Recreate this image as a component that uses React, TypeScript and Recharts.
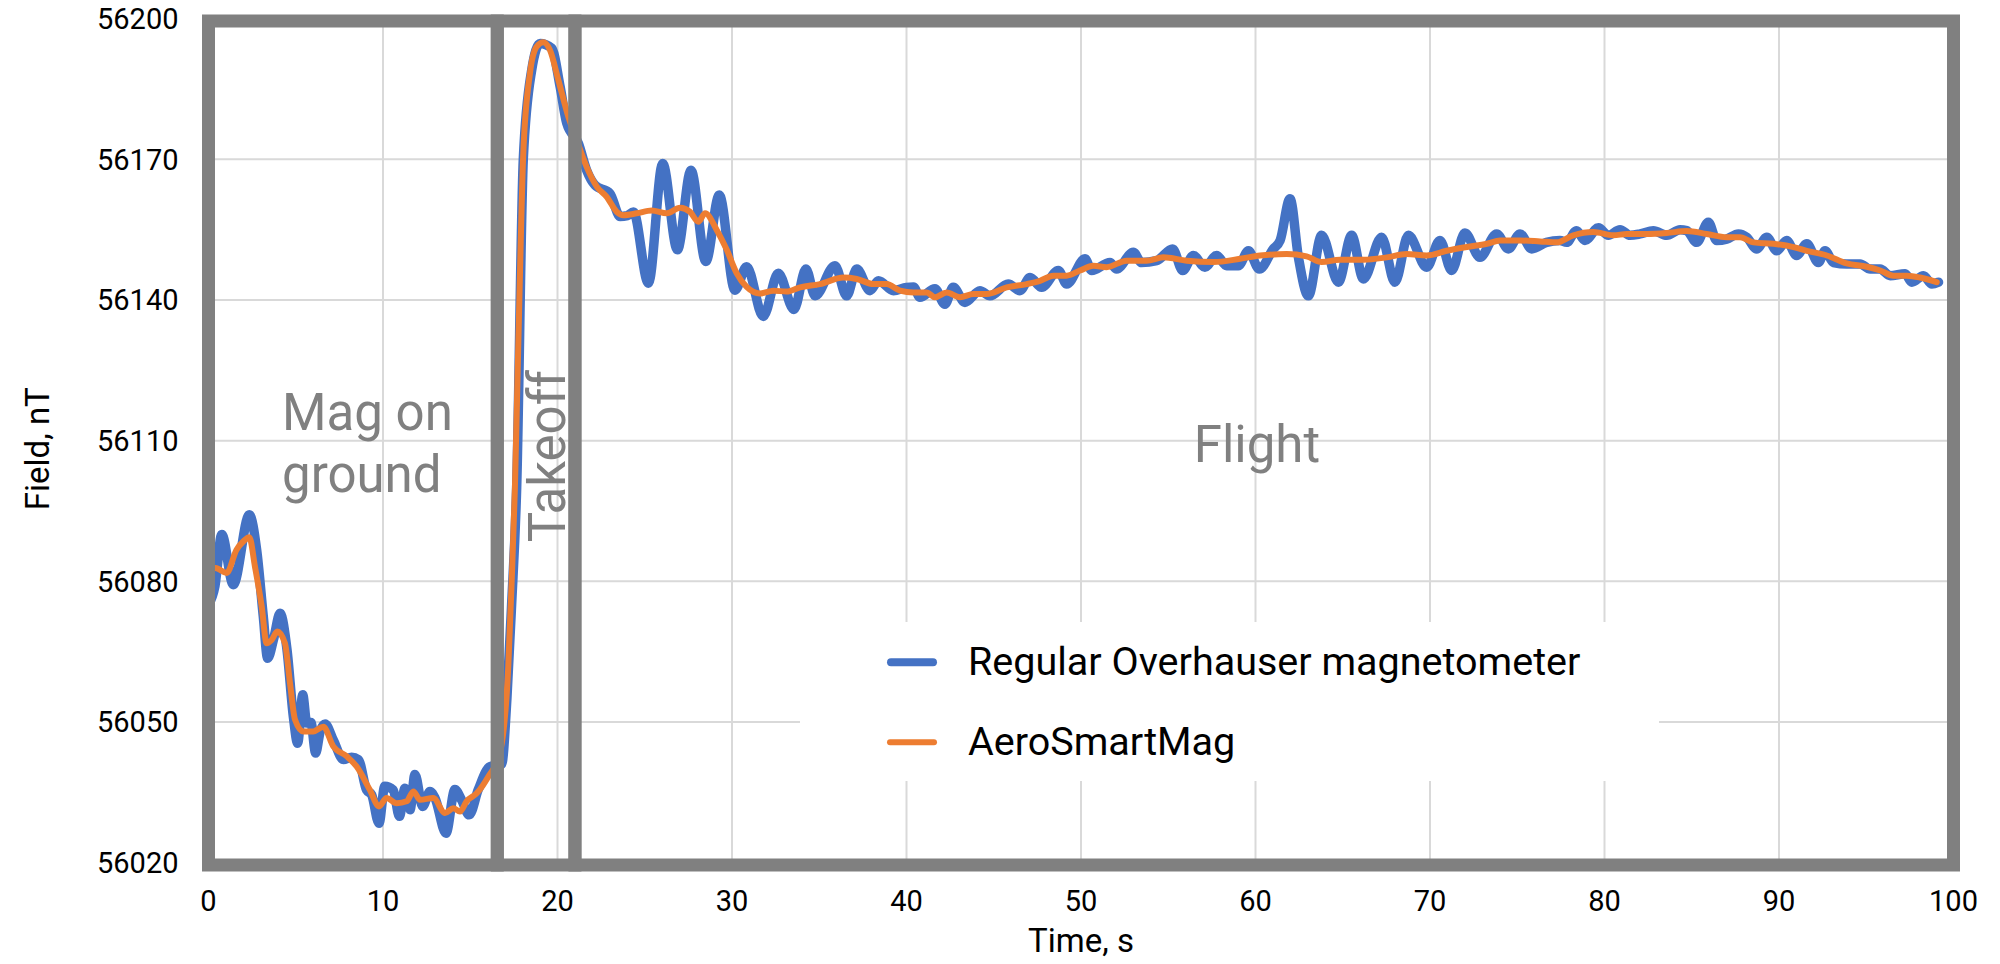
import React from "react";
import {
  LineChart,
  Line,
  XAxis,
  YAxis,
  CartesianGrid,
  ReferenceArea,
  Legend,
  Label,
} from "recharts";

// Regular Overhauser magnetometer (blue), time in s, field in nT
const OVERHAUSER_TIME = [
  0, 0.37, 0.76, 1.42, 2.34, 2.76, 3.14, 3.39, 3.75, 4.1, 4.5, 4.86, 5.11, 5.4,
  5.63, 5.87, 6.14, 6.4, 6.68, 7.15, 7.73, 8.2, 8.59, 9.06, 9.35, 9.77, 10.1,
  10.59, 10.94, 11.26, 11.55, 11.83, 12.27, 12.69, 12.98, 13.61, 14.12, 14.5,
  14.94, 15.46, 16.13, 16.8, 17.1, 17.37, 17.66, 18.04, 18.52, 19.0, 19.67,
  20.15, 20.53, 21.2, 21.67, 22.15, 23.01, 23.59, 24.0, 24.35, 25.21, 26.03,
  26.87, 27.65, 28.5, 29.27, 30.17, 30.84, 31.79, 32.65, 33.55, 34.24, 34.76,
  35.9, 36.57, 37.15, 37.91, 38.39, 39.25, 40.0, 40.4, 40.77, 41.63, 42.2,
  42.68, 43.35, 44.21, 44.78, 45.83, 46.5, 47.08, 47.75, 48.7, 49.18, 50.23,
  50.61, 51.66, 52.04, 53.0, 53.47, 54.33, 55.25, 55.83, 56.44, 57.1, 57.77,
  58.35, 59.02, 59.59, 60.22, 61.02, 61.41, 61.98, 62.46, 63.03, 63.79, 64.75,
  65.51, 66.18, 67.23, 67.99, 68.76, 69.81, 70.57, 71.24, 72.0, 72.86, 73.82,
  74.49, 75.16, 75.83, 76.68, 77.45, 77.83, 78.4, 78.88, 79.65, 80.22, 80.89,
  81.47, 82.04, 82.8, 83.57, 84.33, 84.71, 85.28, 85.95, 86.43, 87.0, 87.67,
  88.15, 88.72, 89.3, 89.87, 90.44, 91.01, 91.59, 92.26, 92.64, 93.12, 93.88,
  94.65, 95.22, 95.8, 96.37, 97.23, 97.61, 98.28, 98.76, 99.14,
];
const OVERHAUSER_FIELD = [
  56075, 56079, 56090, 56079.3, 56094.2, 56086.7, 56072.5, 56063.6, 56068,
  56073.2, 56065.4, 56051.2, 56045.5, 56055.8, 56049.8, 56049.9, 56043.4,
  56048, 56049.6, 56046.2, 56042, 56042.5, 56042, 56035.5, 56034.5, 56028.4,
  56036.3, 56035.5, 56029.9, 56035.9, 56031.3, 56038.8, 56032, 56035.2,
  56033.8, 56026.3, 56035.6, 56033.4, 56030.2, 56035.6, 56040.5, 56041, 56055,
  56075, 56100, 56170, 56189, 56194.7, 56193.7, 56185.5, 56177.7, 56173.4,
  56167.7, 56164.5, 56162.7, 56157.8, 56158, 56158.8, 56143.6, 56169.1,
  56150.7, 56167.7, 56148.2, 56162.4, 56142.1, 56147.1, 56136.5, 56145.7,
  56138, 56146.6, 56140.9, 56147.3, 56140.9, 56146.6, 56142, 56144.1, 56142,
  56142.7, 56142.8, 56140.6, 56142.4, 56139.1, 56142.7, 56139.5, 56142,
  56140.9, 56143.4, 56142, 56144.8, 56142.7, 56146.3, 56143.4, 56148.8,
  56146.3, 56148, 56146.6, 56150.2, 56148, 56148.4, 56150.9, 56146.3, 56149.5,
  56147, 56149.5, 56147.3, 56147.3, 56150.5, 56146.6, 56150.9, 56152.7,
  56161.6, 56149.1, 56140.9, 56153.8, 56143.8, 56153.8, 56144.5, 56153.4,
  56143.8, 56153.8, 56147, 56152.7, 56146.3, 56154.3, 56149.1, 56154.1,
  56150.9, 56154.1, 56150.9, 56152.3, 56152.7, 56152.3, 56154.8, 56152.7,
  56155.4, 56153.8, 56155, 56153.8, 56154.1, 56154.8, 56153.8, 56155, 56154.8,
  56152.3, 56156.6, 56152.7, 56153, 56154.1, 56153.4, 56150.9, 56153.4,
  56150.5, 56152.7, 56149.5, 56152, 56148, 56150.5, 56148, 56147.7, 56147.7,
  56146.6, 56146.6, 56145.2, 56145.6, 56143.8, 56145.2, 56143.4, 56143.8,
];

// AeroSmartMag (orange)
const SMARTMAG_TIME = [
  0, 0.47, 1.04, 1.6, 1.99, 2.34, 2.66, 3.05, 3.33, 3.62, 3.94, 4.38, 4.67,
  4.96, 5.44, 6.01, 6.58, 7.15, 7.92, 8.49, 9.25, 9.77, 10.2, 10.78, 11.36,
  11.74, 12.12, 12.88, 13.55, 14.03, 14.41, 14.79, 15.37, 16.04, 16.7, 17.18,
  17.37, 17.56, 17.76, 18.04, 18.42, 18.8, 19.19, 19.57, 20.05, 20.62, 21.1,
  21.67, 22.25, 22.82, 23.4, 23.78, 24.54, 25.4, 26.26, 27.03, 27.6, 28.07,
  28.46, 29.13, 29.7, 30.27, 30.84, 31.6, 32.37, 33.13, 33.9, 35.04, 36.38,
  37.15, 38.1, 38.86, 39.63, 40.4, 41.16, 41.63, 42.3, 43.07, 43.83, 44.59,
  45.74, 46.89, 47.65, 48.41, 49.18, 49.94, 50.71, 51.47, 52.61, 53.76, 54.71,
  56.06, 57.59, 59.12, 60.26, 61.79, 62.93, 63.79, 64.84, 66.18, 67.52, 68.66,
  69.81, 70.96, 72.11, 73.26, 74.02, 75.16, 76.31, 77.26, 78.21, 79.36, 80.51,
  81.28, 82.42, 83.57, 84.71, 85.86, 87.0, 87.77, 88.53, 89.68, 90.83, 91.59,
  92.74, 93.88, 95.03, 95.8, 96.56, 97.33, 98.09, 99.04,
];
const SMARTMAG_FIELD = [
  56083, 56082.8, 56081.8, 56086.7, 56088.5, 56089.4, 56083.2, 56074.6,
  56066.8, 56067.5, 56069.3, 56066.8, 56058.3, 56050.5, 56048, 56048, 56049,
  56044.8, 56042.7, 56040.5, 56035.5, 56032, 56033.8, 56032.7, 56033.1,
  56035.2, 56033.4, 56033.8, 56030.6, 56031.6, 56030.9, 56033.1, 56034.8,
  56038.4, 56043.4, 56061.9, 56079.6, 56100, 56131.5, 56171.3, 56188.3, 56194,
  56195, 56193.3, 56186.9, 56179.1, 56174.1, 56168.4, 56164.2, 56162, 56158.8,
  56158.1, 56158.5, 56159.1, 56158.5, 56159.7, 56158.8, 56156.7, 56158.5,
  56154.9, 56150.7, 56145.7, 56142.8, 56141.4, 56142, 56141.8, 56142.7,
  56143.4, 56144.8, 56144.5, 56143.4, 56143.4, 56142, 56141.6, 56141.6,
  56140.6, 56141.6, 56140.6, 56141.3, 56141.3, 56142.7, 56143.4, 56144.1,
  56145.2, 56145.2, 56146.3, 56147.3, 56147, 56148.4, 56148.4, 56149.1,
  56148.4, 56148.1, 56148.8, 56149.5, 56149.8, 56149.3, 56148.1, 56148.6,
  56148.6, 56149.1, 56149.8, 56149.5, 56150.5, 56151.3, 56152, 56152.7,
  56152.7, 56152.5, 56152.3, 56153.8, 56154.5, 56153.8, 56154.1, 56154.1,
  56154.3, 56154.7, 56154.1, 56153.4, 56153.4, 56152.3, 56152, 56151.3,
  56150.5, 56149.5, 56147.8, 56147.1, 56146.3, 56145.2, 56145.2, 56144.8,
  56143.8,
];

const X_TICKS = [0, 10, 20, 30, 40, 50, 60, 70, 80, 90, 100];
const Y_TICKS = [56020, 56050, 56080, 56110, 56140, 56170, 56200];

const SERIES_NAMES = ["Regular Overhauser magnetometer", "AeroSmartMag"];

// flight phases drawn as grey frames
const PHASE_NAMES = ["Mag on ground", "Takeoff", "Flight"];
const PHASE_STARTS = [0, 16.55, 21];
const PHASE_ENDS = [16.55, 21, 100];

const BLUE = "#4472C4";
const ORANGE = "#ED7D31";
const FRAME = "#808080";
const FONT = "Roboto";

const overhauser = OVERHAUSER_TIME.map((t, i) => ({ time: t, field: OVERHAUSER_FIELD[i] }));
const smartMag = SMARTMAG_TIME.map((t, i) => ({ time: t, field: SMARTMAG_FIELD[i] }));

const zoneText = { fill: FRAME, fontSize: 51, fontFamily: FONT };

function GroundLabel({ viewBox }: any) {
  const [a, b] = ["Mag on", "ground"];
  return (
    <text {...zoneText}>
      <tspan x={viewBox.x + 73.5} y={viewBox.y + 409}>{a}</tspan>
      <tspan x={viewBox.x + 73.5} y={viewBox.y + 471}>{b}</tspan>
    </text>
  );
}

function TakeoffLabel({ viewBox }: any) {
  const x = viewBox.x + 68;
  const y = viewBox.y + 435;
  return (
    <text x={x} y={y} textAnchor="middle" transform={`rotate(-90 ${x} ${y})`} {...zoneText}>
      {PHASE_NAMES[1]}
    </text>
  );
}

function FlightLabel({ viewBox }: any) {
  return (
    <text x={viewBox.x + 682} y={viewBox.y + 441} textAnchor="middle" {...zoneText}>
      {PHASE_NAMES[2]}
    </text>
  );
}

const ZONE_LABELS = [GroundLabel, TakeoffLabel, FlightLabel];

function YTitle({ viewBox }: any) {
  const x = 38;
  const y = viewBox.y + viewBox.height / 2 + 8;
  return (
    <text
      x={x}
      y={y}
      textAnchor="middle"
      dominantBaseline="central"
      transform={`rotate(-90 ${x} ${y})`}
      fontSize={33}
      fontFamily={FONT}
      fill="#000"
    >
      Field, nT
    </text>
  );
}

function XTitle({ viewBox }: any) {
  return (
    <text
      x={viewBox.x + viewBox.width / 2}
      y={viewBox.y + 78}
      textAnchor="middle"
      dominantBaseline="central"
      fontSize={33}
      fontFamily={FONT}
      fill="#000"
    >
      Time, s
    </text>
  );
}

function LegendBox({ payload }: any) {
  const items = [...(payload || [])].sort(
    (a: any, b: any) => SERIES_NAMES.indexOf(a.value) - SERIES_NAMES.indexOf(b.value)
  );
  return (
    <div style={{ position: "relative", width: 859, height: 159, background: "#fff" }}>
      {items.map((p: any, i: number) => (
        <div
          key={p.value}
          style={{
            position: "absolute",
            left: 87,
            top: 40 + i * 80,
            transform: "translateY(-50%)",
            display: "flex",
            alignItems: "center",
            whiteSpace: "nowrap",
          }}
        >
          <span
            style={{
              display: "inline-block",
              width: 50,
              height: i === 0 ? 8.5 : 6.5,
              borderRadius: 4,
              background: p.color,
            }}
          />
          <span style={{ marginLeft: 31, fontSize: 39.5, lineHeight: 1, color: "#000", fontFamily: FONT }}>
            {p.value}
          </span>
        </div>
      ))}
    </div>
  );
}

export default function App() {
  const tick = { fontSize: 29, fill: "#000", fontFamily: FONT };
  return (
    <div style={{ position: "absolute", left: 0, top: 0, width: 2000, height: 964, background: "#fff" }}>
      <LineChart
        width={2000}
        height={964}
        margin={{ top: 18.7, right: 46.5, left: 0, bottom: 0 }}
        style={{ fontFamily: FONT }}
      >
        <CartesianGrid stroke="#d9d9d9" strokeWidth={2} />
        <XAxis
          type="number"
          dataKey="time"
          domain={[0, 100]}
          ticks={X_TICKS}
          height={101.3}
          axisLine={false}
          tickLine={false}
          tickSize={0}
          tickMargin={28}
          tick={tick}
          label={<Label content={<XTitle />} />}
        />
        <YAxis
          type="number"
          domain={[56020, 56200]}
          ticks={Y_TICKS}
          width={208.5}
          axisLine={false}
          tickLine={false}
          tickSize={0}
          tickMargin={30}
          tick={tick}
          label={<Label content={<YTitle />} />}
        />
        <Line
          data={overhauser}
          dataKey="field"
          name={SERIES_NAMES[0]}
          type="monotone"
          stroke={BLUE}
          strokeWidth={9.5}
          strokeLinejoin="round"
          strokeLinecap="round"
          dot={false}
          activeDot={false}
          isAnimationActive={false}
        />
        <Line
          data={smartMag}
          dataKey="field"
          name={SERIES_NAMES[1]}
          type="monotone"
          stroke={ORANGE}
          strokeWidth={6}
          strokeLinejoin="round"
          strokeLinecap="round"
          dot={false}
          activeDot={false}
          isAnimationActive={false}
        />
        {PHASE_NAMES.map((name, i) => {
          const Z = ZONE_LABELS[i];
          return (
            <ReferenceArea
              key={name}
              x1={PHASE_STARTS[i]}
              x2={PHASE_ENDS[i]}
              y1={56019.5}
              y2={56199.5}
              ifOverflow="visible"
              fill="none"
              stroke={FRAME}
              strokeWidth={13}
              zIndex={600}
              label={<Label content={<Z />} />}
            />
          );
        })}
        <Legend
          layout="horizontal"
          verticalAlign="middle"
          align="center"
          content={<LegendBox />}
          wrapperStyle={{ left: 800, top: 622, width: 859, height: 159 }}
        />
      </LineChart>
    </div>
  );
}
